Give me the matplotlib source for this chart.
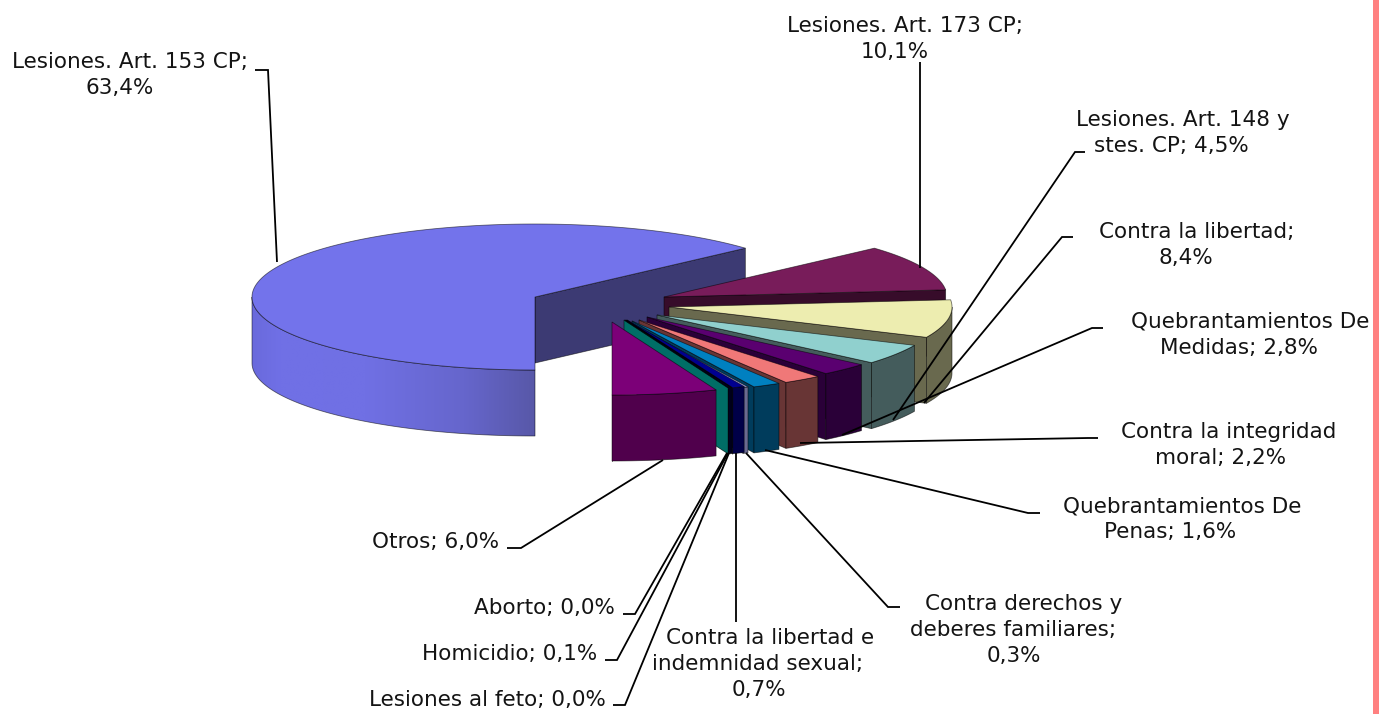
"""Exploded 3D pie of offence shares, drawn with plain polygons."""
import numpy as np
import matplotlib
matplotlib.use("Agg")
import matplotlib.pyplot as plt
from matplotlib.colors import LinearSegmentedColormap
from matplotlib.patches import Polygon, Rectangle

# counter-clockwise from the bottom of the pie
categories = ["Otros", "Aborto", "Homicidio", "Lesiones al feto",
              "Contra la libertad e indemnidad sexual",
              "Contra derechos y deberes familiares",
              "Quebrantamientos De Penas", "Contra la integridad moral",
              "Quebrantamientos De Medidas", "Lesiones. Art. 148 y stes. CP",
              "Contra la libertad", "Lesiones. Art. 173 CP",
              "Lesiones. Art. 153 CP"]
values = [6.0, 0.0, 0.1, 0.0, 0.7, 0.3, 1.6, 2.2, 2.8, 4.5, 8.4, 10.1, 63.4]

top_colors = ["#7C0078", "#007068", "#000040", "#000028", "#000090", "#A8A8E0", "#0080C0",
              "#F07878", "#5A0070", "#90D0CE", "#EDEDB0", "#781C5A", "#7373EB"]
side_colors = ["#50004C", "#006E66", "#000030", "#000020", "#000048", "#6A6A90", "#003C5C",
               "#683535", "#2A0038", "#445C5C", "#69694E", "#370C2A", "#3C3A73"]

# where each exploded slice has its tip, in figure pixels
tips = [(612, 322), (624, 320), (625, 320), (626, 320), (627, 320), (626, 321), (632, 321),
        (639, 320), (647, 317), (657, 315), (669, 307), (664, 297), (535, 297)]

RX, RY, DEPTH = 283, 73, 66
EDGE = (0, 0, 0, 0.55)

# text line, centre x, centre y
label_lines = [
    ("Lesiones. Art. 153 CP;", 130, 61), ("63,4%", 120, 87),
    ("Lesiones. Art. 173 CP;", 905, 25), ("10,1%", 895, 51),
    ("Lesiones. Art. 148 y", 1183, 119), ("stes. CP; 4,5%", 1171, 145),
    ("Contra la libertad;", 1197, 231), ("8,4%", 1186, 257),
    ("Quebrantamientos De", 1250, 320), ("Medidas; 2,8%", 1239, 347),
    ("Contra la integridad", 1229, 430), ("moral; 2,2%", 1221, 457),
    ("Quebrantamientos De", 1182, 505), ("Penas; 1,6%", 1170, 531),
    ("Contra derechos y", 1024, 603), ("deberes familiares;", 1013, 629), ("0,3%", 1014, 655),
    ("Contra la libertad e", 770, 637), ("indemnidad sexual;", 758, 663), ("0,7%", 759, 689),
    ("Otros; 6,0%", 436, 541), ("Aborto; 0,0%", 544, 606),
    ("Homicidio; 0,1%", 510, 653), ("Lesiones al feto; 0,0%", 487, 698),
]

leaders = [
    [(277, 262), (268, 70), (255, 70)],
    [(920, 268), (920, 62)],
    [(893, 420), (1075, 152), (1085, 152)],
    [(924, 403), (1062, 237), (1073, 237)],
    [(842, 435), (1092, 328), (1103, 328)],
    [(800, 443), (1088, 438), (1098, 438)],
    [(765, 450), (1028, 513), (1040, 513)],
    [(746, 453), (888, 607), (900, 607)],
    [(736, 453), (736, 622)],
    [(663, 460), (521, 548), (507, 548)],
    [(727, 453), (635, 614), (623, 614)],
    [(728, 453), (617, 660), (605, 660)],
    [(729, 453), (625, 705), (613, 705)],
]

# big slice wall: lit on the left, darker towards its right end
big_wall = LinearSegmentedColormap.from_list(
    "big_wall", [(0, "#6A6ADC"), (0.1, "#7070E6"), (0.4, "#7070E4"), (0.75, "#6666CC"), (1, "#5858A8")])


def rim(tip, angles):
    """Points on the outer edge of a slice for angles in degrees."""
    rad = np.radians(angles)
    return np.column_stack([tip[0] + RX * np.cos(rad), tip[1] - RY * np.sin(rad)])


def visible_wall(a0, a1):
    """Part of the outer wall that faces the viewer, or None."""
    if a1 > 180:
        return max(a0, 180), a1
    if a0 < 0:
        return a0, min(a1, 0)
    return None


def draw_slice(ax, tip, a0, a1, top, side, wall_cmap=None):
    # cut face along the lower angle
    corner = rim(tip, [a0])[0]
    face = [tip, corner, corner + (0, DEPTH), (tip[0], tip[1] + DEPTH)]
    ax.add_patch(Polygon(face, facecolor=side, edgecolor=EDGE, linewidth=0.6))

    span = visible_wall(a0, a1)
    if span is not None:
        ang = np.linspace(span[0], span[1], max(2, int((span[1] - span[0]) * 2) + 1))
        pts = rim(tip, ang)
        outline = np.vstack([pts, pts[::-1] + (0, DEPTH)])
        if wall_cmap is None:
            ax.add_patch(Polygon(outline, facecolor=side, edgecolor=EDGE, linewidth=0.6))
        else:
            xmin, xmax = outline[:, 0].min(), outline[:, 0].max()
            ymin, ymax = outline[:, 1].min(), outline[:, 1].max()
            clip = Polygon(outline, transform=ax.transData, fill=False)
            im = ax.imshow(np.linspace(0, 1, 256)[None, :], cmap=wall_cmap, aspect="auto",
                           extent=[xmin, xmax, ymax, ymin], interpolation="bilinear")
            im.set_clip_path(clip)
            ax.add_patch(Polygon(outline, fill=False, edgecolor=EDGE, linewidth=0.6))

    ang = np.linspace(a0, a1, max(2, int((a1 - a0) * 2) + 1))
    ax.add_patch(Polygon(np.vstack([[tip], rim(tip, ang)]), facecolor=top,
                         edgecolor=EDGE, linewidth=0.6))


fig = plt.figure(figsize=(13.86, 7.14), dpi=100)
ax = fig.add_axes([0, 0, 1, 1])
ax.axis("off")

ax.add_patch(Rectangle((1373, 0), 5.5, 714, facecolor="#FF8080", edgecolor="none"))

shares = np.array(values) / sum(values) * 360
ends = -90 + np.cumsum(shares)
starts = ends - shares

# back to front: biggest slice first, Otros last
for i in range(len(values) - 1, -1, -1):
    cmap = big_wall if i == len(values) - 1 else None
    draw_slice(ax, tips[i], starts[i], ends[i], top_colors[i], side_colors[i], wall_cmap=cmap)

for line in leaders:
    xs, ys = zip(*line)
    ax.plot(xs, ys, color="black", linewidth=1.3, solid_capstyle="butt", solid_joinstyle="miter")

for text, x, y in label_lines:
    ax.text(x, y + 1.5, text, ha="center", va="center", fontsize=15.45, color="#141414",
            family="DejaVu Sans")

ax.set_xlim(0, 1386)
ax.set_ylim(714, 0)

fig.savefig("out.png", dpi=100, facecolor="white")
plt.close(fig)
